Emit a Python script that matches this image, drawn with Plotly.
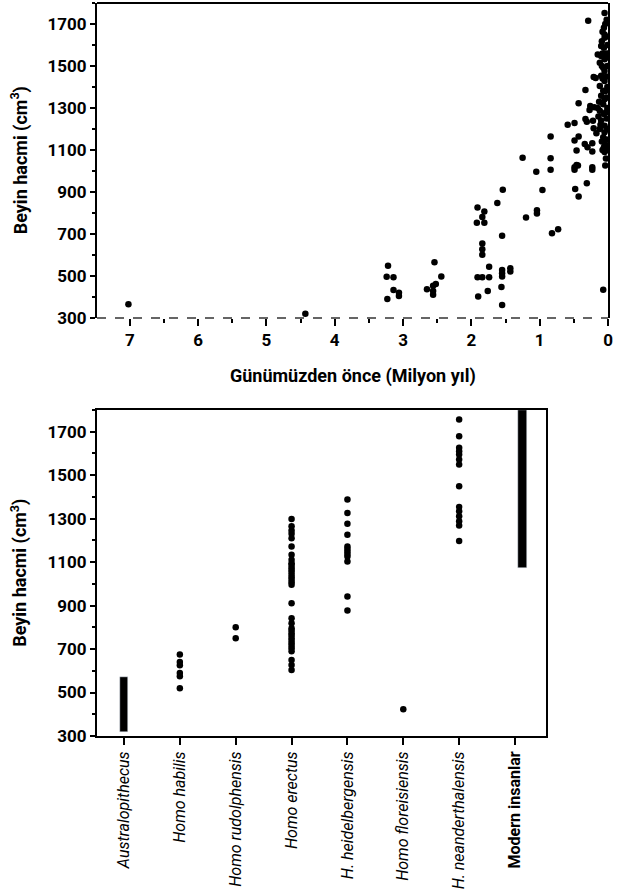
import plotly.graph_objects as go

# ---------------- Top chart data: age (million years ago) vs brain volume ----------------
ages = [7.02, 4.43,
        3.22, 3.24, 3.14, 3.14, 3.06, 3.06, 3.23,
        2.54, 2.44, 2.52, 2.56, 2.65, 2.56, 2.56,
        1.91, 1.81, 1.84, 1.92, 1.81, 1.84, 1.84, 1.84, 1.74, 1.91, 1.84, 1.74, 1.76, 1.90,
        1.54, 1.62, 1.55, 1.55, 1.55, 1.55, 1.43, 1.43, 1.56, 1.55,
        1.25, 1.20, 1.05, 0.96, 1.04, 1.04, 0.84, 0.84, 0.84, 0.82, 0.73,
        0.59, 0.49, 0.43, 0.49, 0.43, 0.46, 0.46, 0.49, 0.44, 0.49, 0.48, 0.43,
        0.34, 0.30, 0.23, 0.23, 0.23, 0.23, 0.31, 0.33, 0.29, 0.33, 0.31, 0.20, 0.22, 0.21, 0.17, 0.21, 0.18, 0.07, 0.04,
        0.05, 0.04, 0.06, 0.08, 0.05, 0.05, 0.09, 0.10, 0.06, 0.15, 0.10, 0.05, 0.12, 0.07, 0.05, 0.10,
        0.05, 0.12, 0.07, 0.10, 0.05, 0.07, 0.12, 0.06, 0.10, 0.05, 0.12, 0.05, 0.07, 0.05, 0.06, 0.05,
        0.02, 0.01, 0.02, 0.01, 0.02, 0.01, 0.02, 0.01, 0.02, 0.01, 0.02, 0.01, 0.03, 0.03, 0.03, 0.04,
        0.03, 0.08, 0.09, 0.08, 0.13, 0.15, 0.14, 0.11, 0.09, 0.08, 0.03, 0.26, 0.27]
volumes = [365, 320,
           549, 496, 494, 433, 420, 405, 390,
           565, 497, 462, 454, 437, 428, 410,
           826, 807, 781, 753, 753, 655, 627, 601, 544, 494, 494, 494, 429, 402,
           911, 848, 691, 529, 513, 497, 537, 521, 447, 362,
           1063, 778, 996, 909, 813, 797, 1164, 1061, 1006, 703, 723,
           1220, 1228, 1323, 1145, 1164, 1097, 1029, 1018, 1026, 1006, 914, 879,
           1129, 1113, 1132, 1093, 1018, 1006, 942, 1386, 1716, 1247, 1234, 1303, 1239, 1204, 1180, 1448, 1443, 434, 1026,
           1752, 1700, 1682, 1663, 1650, 1634, 1618, 1595, 1587, 1555, 1547, 1532, 1516, 1492, 1476, 1453,
           1429, 1405, 1382, 1358, 1342, 1318, 1287, 1271, 1240, 1216, 1200, 1184, 1161, 1137, 1113, 1090,
           1720, 1600, 1560, 1500, 1450, 1400, 1350, 1300, 1250, 1200, 1150, 1100, 1060, 1640, 1540, 1380,
           1280, 1560, 1500, 1440, 1330, 1300, 1260, 1220, 1140, 1100, 1120, 1310, 1290]

x_ticks_top = [7, 6, 5, 4, 3, 2, 1, 0]
y_ticks = [300, 500, 700, 900, 1100, 1300, 1500, 1700]

# ---------------- Bottom chart data: species vs brain volume ----------------
species = ["<i>Australopithecus</i>", "<i>Homo habilis</i>", "<i>Homo rudolphensis</i>",
           "<i>Homo erectus</i>", "<i>H. heidelbergensis</i>", "<i>Homo floreisiensis</i>",
           "<i>H. neanderthalensis</i>", "<b>Modern insanlar</b>"]
habilis = [675, 640, 625, 590, 575, 520]
rudolphensis = [800, 750]
erectus = [1299, 1265, 1246, 1231, 1210, 1172, 1134, 1111, 1095, 1088, 1075, 1065, 1055, 1042, 1030,
           1019, 1008, 996, 911, 842, 819, 796, 785, 773, 762, 750, 738, 727, 715, 704, 690, 650, 627, 604]
heidelbergensis = [1388, 1326, 1277, 1226, 1172, 1160, 1149, 1137, 1126, 1103, 942, 877]
floresiensis = [423]
neanderthalensis = [1756, 1679, 1626, 1610, 1595, 1572, 1549, 1449, 1354, 1334, 1311, 1288, 1269, 1197]
australopithecus_range = [318, 570]
modern_range = [1075, 1800]

FONT = "Roboto, Liberation Sans Narrow, sans-serif"
DOT = dict(color="black", size=6.5)

fig = go.Figure()

# top scatter
fig.add_trace(go.Scatter(x=ages, y=volumes, mode="markers", marker=DOT,
                         xaxis="x", yaxis="y", showlegend=False))

# bottom chart
groups = [habilis, rudolphensis, erectus, heidelbergensis, floresiensis, neanderthalensis]
for idx, vals in zip([1, 2, 3, 4, 5, 6], groups):
    fig.add_trace(go.Scatter(x=[idx] * len(vals), y=vals, mode="markers", marker=DOT,
                             xaxis="x2", yaxis="y2", showlegend=False))

fig.add_trace(go.Bar(x=[0], y=[australopithecus_range[1] - australopithecus_range[0]],
                     base=[australopithecus_range[0]], width=0.14, marker_color="black",
                     xaxis="x2", yaxis="y2", showlegend=False))
fig.add_trace(go.Bar(x=[7], y=[modern_range[1] - modern_range[0]],
                     base=[modern_range[0]], width=0.16, offset=0.05, marker_color="black",
                     xaxis="x2", yaxis="y2", showlegend=False))

tickfont = dict(family=FONT, size=17, color="black", weight="bold")
titlefont = dict(family=FONT, size=18, color="black", weight="bold")

fig.update_layout(
    width=617, height=894,
    margin=dict(l=97, r=9, t=3, b=158),
    paper_bgcolor="white", plot_bgcolor="white",
    font=dict(family=FONT, color="black"),
    xaxis=dict(domain=[0, 1], range=[7.48, 0], anchor="y", tickvals=x_ticks_top,
               ticks="outside", ticklen=7, tickwidth=2, tickcolor="black",
               tickfont=tickfont, showgrid=False, zeroline=False, showline=False,
               minor=dict(dtick=0.5, tick0=0, ticks="outside", ticklen=4, tickwidth=2, tickcolor="black")),
    yaxis=dict(domain=[0.5703, 1], range=[300, 1800], anchor="x", tickvals=y_ticks,
               ticks="outside", ticklen=5, tickwidth=2, tickcolor="black",
               tickfont=tickfont, showgrid=False, zeroline=False,
               showline=True, linewidth=2, linecolor="black", mirror=True,
               minor=dict(dtick=100, tick0=300, ticks="outside", ticklen=3, tickwidth=2, tickcolor="black")),
    xaxis2=dict(domain=[0, 0.8787], range=[-0.483, 7.555], anchor="y2",
                tickvals=list(range(8)), ticktext=species, tickangle=-90,
                ticks="outside", ticklen=7, tickwidth=2, tickcolor="black",
                tickfont=dict(family=FONT, size=16, color="black"),
                showgrid=False, zeroline=False,
                showline=True, linewidth=2, linecolor="black", mirror=True),
    yaxis2=dict(domain=[0, 0.4447], range=[300, 1800], anchor="x2", tickvals=y_ticks,
                ticks="outside", ticklen=5, tickwidth=2, tickcolor="black",
                tickfont=tickfont, showgrid=False, zeroline=False,
                showline=True, linewidth=2, linecolor="black", mirror=True,
                minor=dict(dtick=100, tick0=300, ticks="outside", ticklen=3, tickwidth=2, tickcolor="black")),
    bargap=0,
    shapes=[
        dict(type="line", xref="x domain", yref="y domain", x0=0, x1=1, y0=1, y1=1,
             line=dict(color="black", width=2)),
        dict(type="line", xref="x domain", yref="y domain", x0=0, x1=1, y0=0, y1=0,
             line=dict(color="#333", width=1.5, dash="dash")),
    ],
    annotations=[
        dict(text="Günümüzden önce (Milyon yıl)", xref="paper", yref="paper", x=0.5, y=0.4911,
             showarrow=False, font=titlefont, xanchor="center", yanchor="middle"),
        dict(text="Beyin hacmi (cm<sup>3</sup>)", xref="paper", yref="paper", x=-0.151, y=0.7852,
             textangle=-90, showarrow=False, font=titlefont, xanchor="center", yanchor="middle"),
        dict(text="Beyin hacmi (cm<sup>3</sup>)", xref="paper", yref="paper", x=-0.151, y=0.2224,
             textangle=-90, showarrow=False, font=titlefont, xanchor="center", yanchor="middle"),
    ],
)

fig.write_html("out.html")
